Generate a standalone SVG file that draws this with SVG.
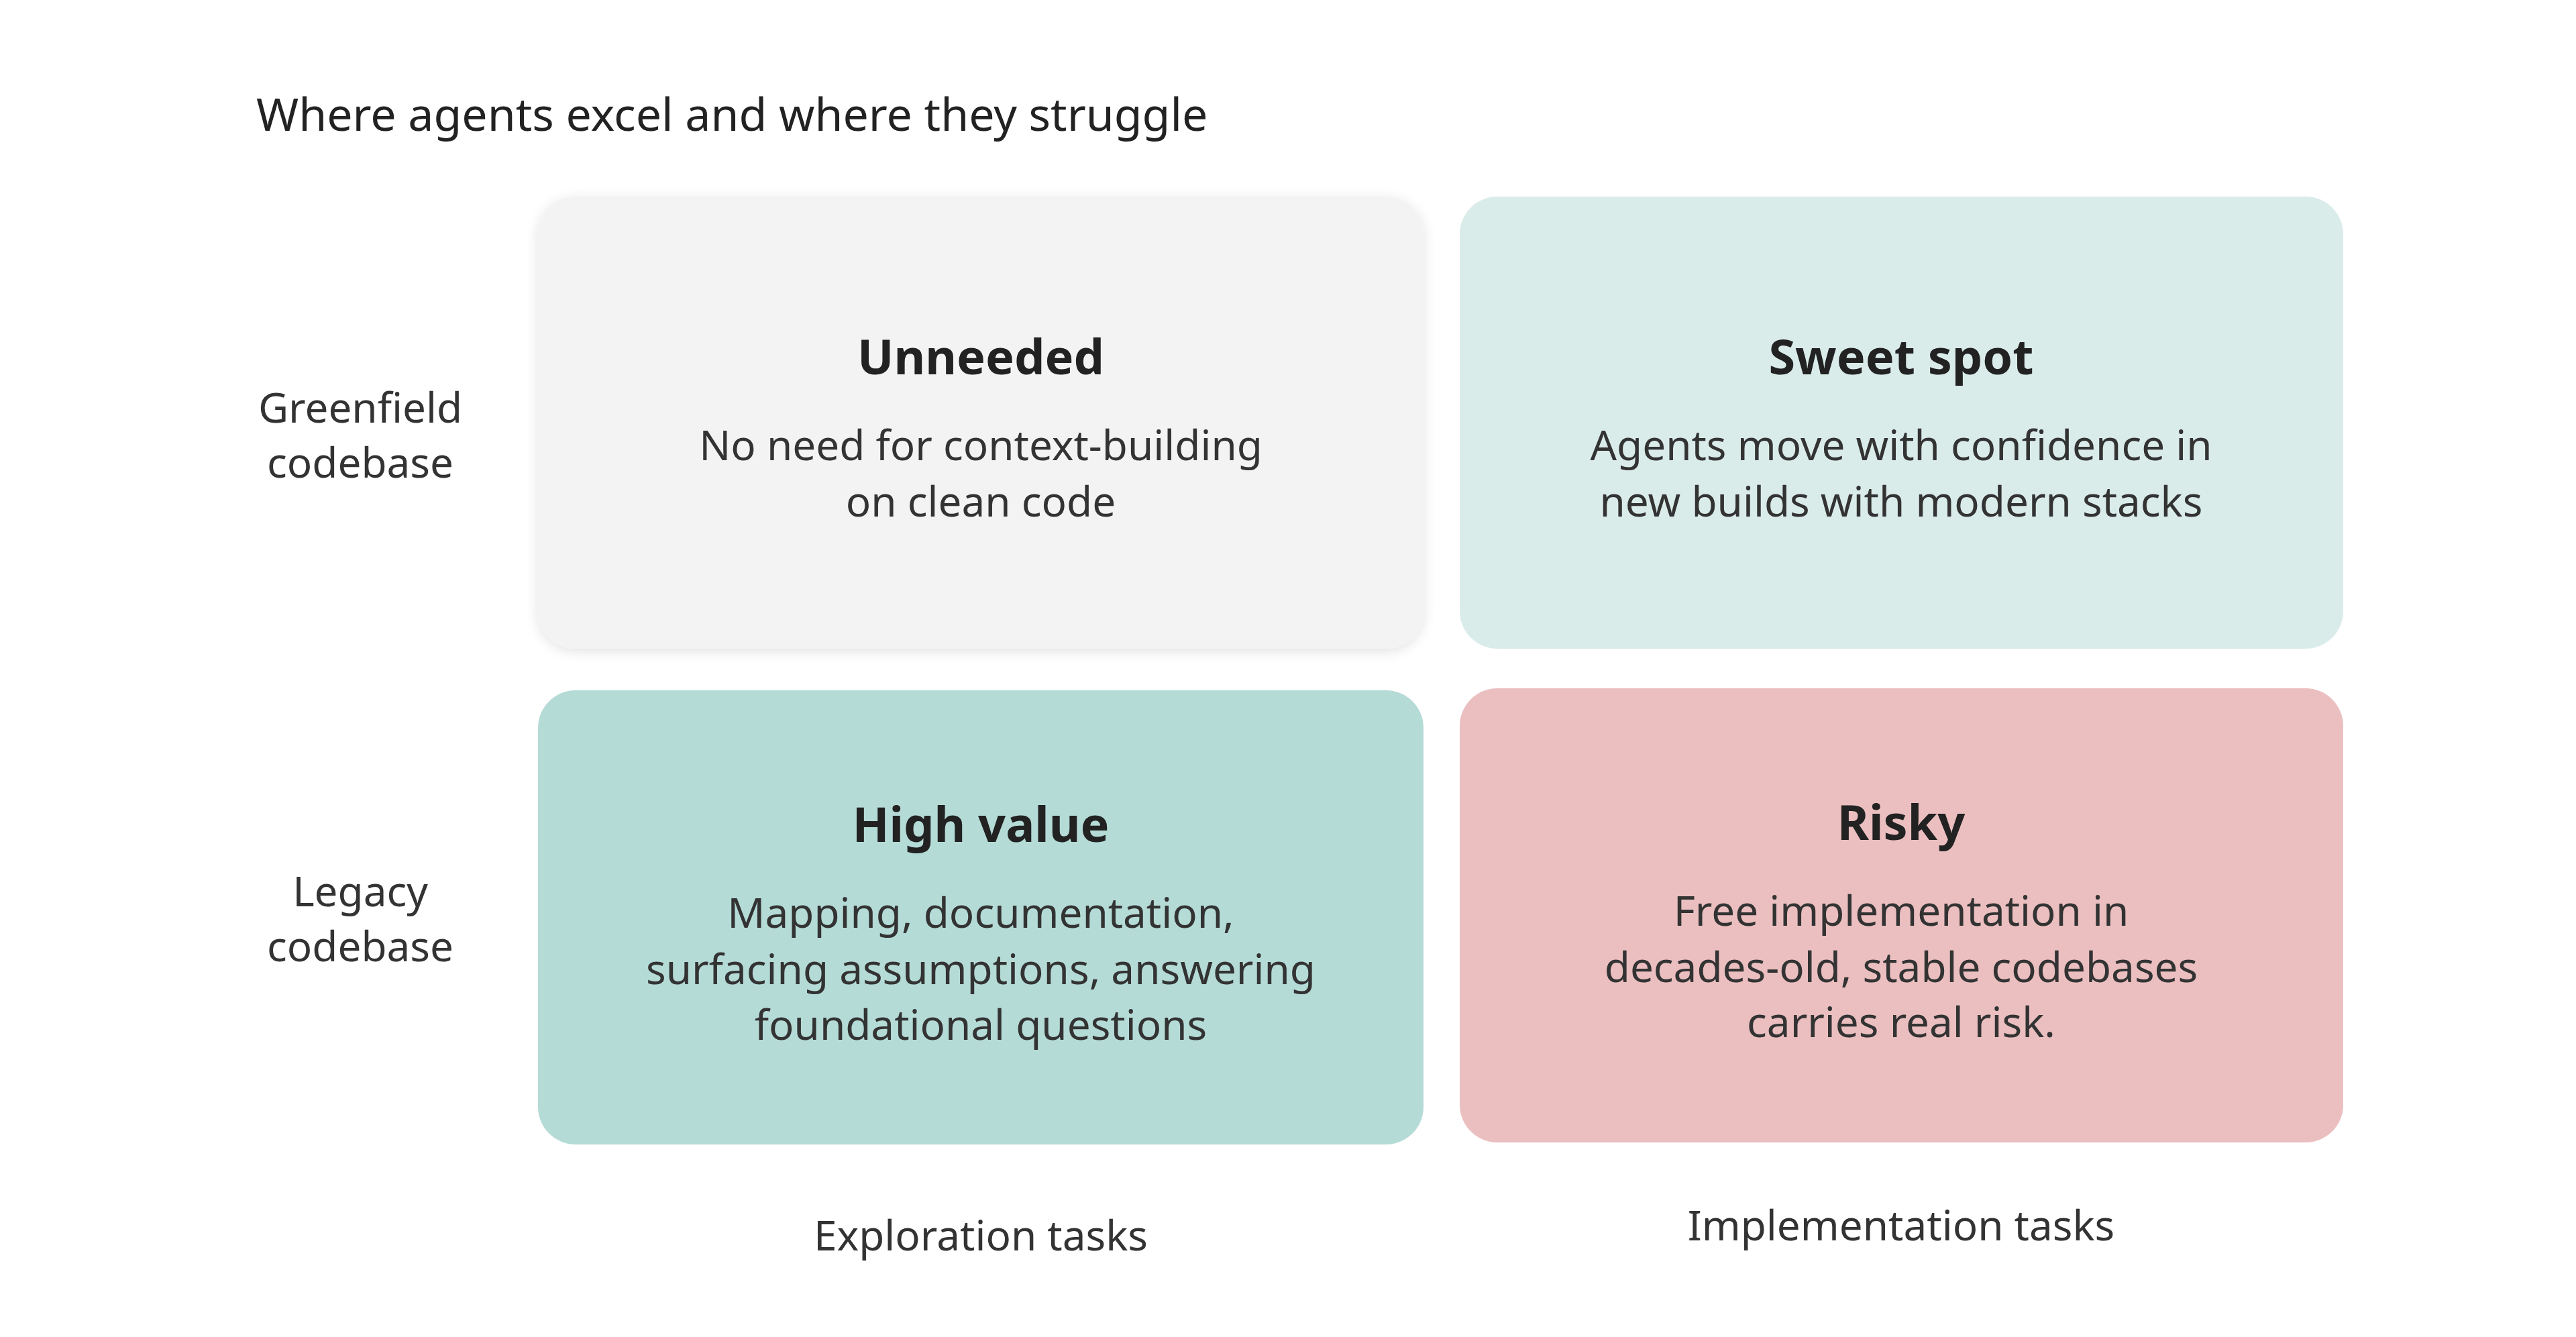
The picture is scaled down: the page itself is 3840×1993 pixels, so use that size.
<svg xmlns="http://www.w3.org/2000/svg" width="3840" height="1993" viewBox="0 0 3840 1993">
<defs>
<filter id="sh" x="-10%" y="-10%" width="120%" height="120%"><feGaussianBlur in="SourceAlpha" stdDeviation="10"/><feOffset dy="4"/><feComponentTransfer><feFuncA type="linear" slope="0.12"/></feComponentTransfer><feMerge><feMergeNode/><feMergeNode in="SourceGraphic"/></feMerge></filter>
</defs>
<style>
text{font-family:"Noto Sans","Open Sans",sans-serif;fill:#222;}
.t{font-size:68px;}
.h{font-size:72px;font-weight:bold;text-anchor:middle;}
.b{font-size:62px;text-anchor:middle;fill:#333;}
.l{font-size:62px;text-anchor:middle;fill:#333;}
</style>
<rect width="3840" height="1993" fill="#fff"/>
<text class="t" x="382" y="195">Where agents excel and where they struggle</text>
<g id="unneeded">
<rect x="802" y="293" width="1320" height="674" rx="56" fill="#f3f3f3" filter="url(#sh)"/>
<text class="h" x="1462" y="558">Unneeded</text>
<text class="b" x="1462" y="686">No need for context-building</text>
<text class="b" x="1462" y="770">on clean code</text>
</g>
<g id="sweet-spot">
<rect x="2176" y="293" width="1317" height="674" rx="56" fill="#daecea"/>
<text class="h" x="2834" y="558">Sweet spot</text>
<text class="b" x="2834" y="686">Agents move with confidence in</text>
<text class="b" x="2834" y="770">new builds with modern stacks</text>
</g>
<g id="high-value">
<rect x="802" y="1029" width="1320" height="677" rx="56" fill="#b5dbd7"/>
<text class="h" x="1462" y="1255">High value</text>
<text class="b" x="1462" y="1383">Mapping, documentation,</text>
<text class="b" x="1462" y="1467">surfacing assumptions, answering</text>
<text class="b" x="1462" y="1550">foundational questions</text>
</g>
<g id="risky">
<rect x="2176" y="1026" width="1317" height="677" rx="56" fill="#ebbfc0"/>
<text class="h" x="2834" y="1252">Risky</text>
<text class="b" x="2834" y="1380">Free implementation in</text>
<text class="b" x="2834" y="1464">decades-old, stable codebases</text>
<text class="b" x="2834" y="1546">carries real risk.</text>
</g>
<g id="labels">
<text class="l" x="537" y="630">Greenfield</text>
<text class="l" x="537" y="712">codebase</text>
<text class="l" x="537" y="1351">Legacy</text>
<text class="l" x="537" y="1433">codebase</text>
<text class="l" x="1462" y="1864">Exploration tasks</text>
<text class="l" x="2834" y="1849">Implementation tasks</text>
</g>
<g id="connectors"/>
</svg>
